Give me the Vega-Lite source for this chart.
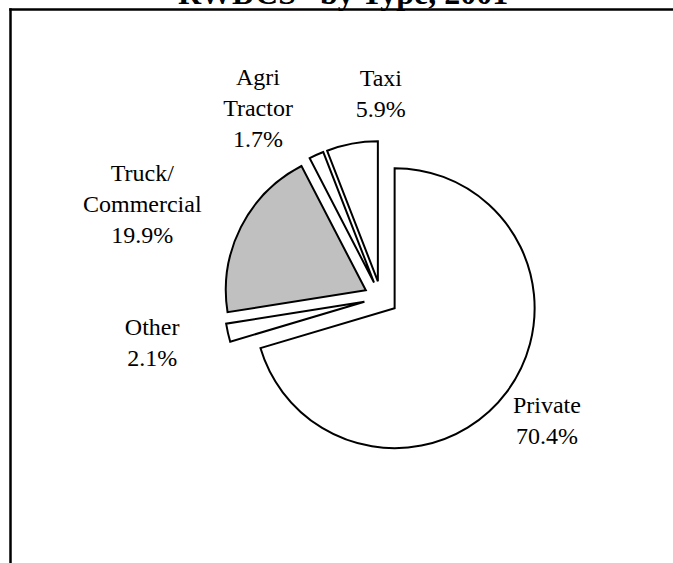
{
  "$schema": "https://vega.github.io/schema/vega-lite/v6.json",
  "width": 663,
  "height": 554,
  "autosize": {"type": "none"},
  "padding": {"left": 10, "top": 9, "right": 0, "bottom": 0},
  "background": "white",
  "config": {
    "view": {"stroke": null},
    "axis": {"domain": true, "domainColor": "black", "domainWidth": 2.5, "domainCap": "square", "ticks": false, "labels": false, "grid": false, "title": null}
  },
  "title": {
    "text": "RWDCS* by Type, 2001",
    "font": "Liberation Serif, Times New Roman, DejaVu Serif, serif",
    "fontSize": 32,
    "fontWeight": "bold",
    "color": "black",
    "anchor": "start",
    "baseline": "alphabetic",
    "offset": 0,
    "dx": 168,
    "dy": 27
  },
  "data": {
    "values": [
      {"order": 1, "name": "Private", "pct": 70.4},
      {"order": 2, "name": "Other", "pct": 2.1},
      {"order": 3, "name": "Truck/\nCommercial", "pct": 19.9},
      {"order": 4, "name": "Agri\nTractor", "pct": 1.7},
      {"order": 5, "name": "Taxi", "pct": 5.9}
    ]
  },
  "transform": [
    {"window": [{"op": "sum", "field": "pct", "as": "cum"}], "sort": [{"field": "order"}], "frame": [null, 0]},
    {"calculate": "datum.cum - datum.pct", "as": "start"},
    {"calculate": "(datum.start + datum.cum) / 2", "as": "mid"},
    {"calculate": "datum.mid / 100 * 2 * PI", "as": "ang"},
    {"calculate": "17 * sin(datum.ang)", "as": "dx"},
    {"calculate": "17 * cos(datum.ang)", "as": "dy"},
    {"calculate": "datum.name + '\\n' + format(datum.pct, '.1f') + '%'", "as": "label"},
    {"calculate": "split(datum.label, '\\n')", "as": "lines"},
    {"calculate": "length(datum.lines)", "as": "nl"},
    {"calculate": "max(length(datum.lines[0]), length(datum.lines[1]), length(datum.lines[datum.nl - 1]))", "as": "mc"}
  ],
  "layer": [
    {
      "mark": {"type": "arc", "radius": 140, "stroke": "black", "strokeWidth": 2},
      "encoding": {
        "theta": {"field": "start", "type": "quantitative", "stack": null, "scale": {"domain": [0, 100], "range": [0, 6.283185307179586]}},
        "theta2": {"field": "cum"},
        "x": {"field": "dx", "type": "quantitative", "scale": {"domain": [-371, 292], "nice": false, "zero": false}, "axis": {"orient": "top"}},
        "y": {"field": "dy", "type": "quantitative", "scale": {"domain": [-265, 289], "nice": false, "zero": false}, "axis": {"orient": "left"}},
        "fill": {
          "field": "name",
          "type": "nominal",
          "scale": {"domain": ["Private", "Other", "Truck/\nCommercial", "Agri\nTractor", "Taxi"], "range": ["#ffffff", "#ffffff", "#c0c0c0", "#ffffff", "#ffffff"]},
          "legend": null
        }
      }
    },
    {
      "mark": {
        "type": "text",
        "radius": 190,
        "font": "Liberation Serif, Times New Roman, DejaVu Serif, serif",
        "fontSize": 24,
        "lineBreak": "\n",
        "lineHeight": 31,
        "baseline": "middle",
        "align": "center",
        "dx": {"expr": "sin(datum.ang) < -0.3 ? -datum.mc * 5.4 : sin(datum.ang) < 0 ? datum.mc * 9.5 : 0"},
        "dy": {"expr": "-(datum.nl - 1) * 15.5"},
        "fill": "black"
      },
      "encoding": {
        "theta": {"field": "mid", "type": "quantitative", "stack": null},
        "x": {"field": "dx", "type": "quantitative"},
        "y": {"field": "dy", "type": "quantitative"},
        "text": {"field": "label"}
      }
    }
  ]
}
